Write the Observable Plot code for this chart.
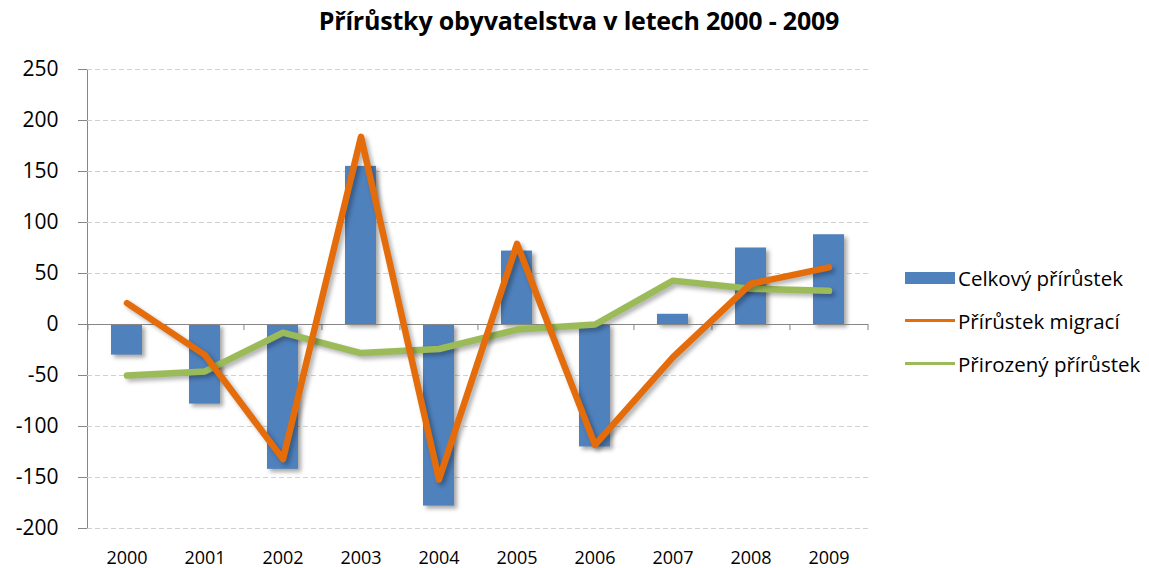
<!DOCTYPE html>
<html><head><meta charset="utf-8">
<script src="https://cdn.jsdelivr.net/npm/d3@7"></script>
<script src="https://cdn.jsdelivr.net/npm/@observablehq/plot@0.6"></script>
<style>
body{margin:0;background:#fff;font-family:"Open Sans",sans-serif;}
#wrap{position:relative;width:1149px;height:568px;overflow:hidden;}
#title{position:absolute;top:3px;left:0;width:1158px;text-align:center;font-weight:bold;font-size:25px;color:#000;letter-spacing:-0.2px;}
#chart{position:absolute;top:45px;left:0;}
#legend{position:absolute;left:905px;top:256px;font-size:20.5px;color:#000;}
.li{display:flex;align-items:center;height:43px;}
.sw{width:50px;margin-right:3px;}
svg text{fill:#000;}
svg [aria-label^="y-axis"] text{font-size:21px;}
g[aria-label="bar"]{filter:drop-shadow(3px 3px 2px rgba(0,0,0,0.35));}
g[aria-label="line"]{filter:drop-shadow(3px 3px 2px rgba(0,0,0,0.3));}
</style></head>
<body><div id="wrap"><div id="title">Přírůstky obyvatelstva v letech 2000 - 2009</div><div id="chart"></div><div id="legend"></div></div>
<script>
const years = ["2000","2001","2002","2003","2004","2005","2006","2007","2008","2009"];
const celkovy = [-30,-78,-142,155,-178,72,-120,10,75,88];
const migrace = [21,-30,-132,184,-152,79,-118,-32,40,56];
const prirozeny = [-50,-46,-8,-28,-24,-5,0,43,35,33];
const yTicks = [-200,-150,-100,-50,0,50,100,150,200,250];
const seriesNames = ["Celkový přírůstek","Přírůstek migrací","Přirozený přírůstek"];
const seriesColors = ["#4F81BD","#E46C0A","#9BBB59"];

const W = 880, H = 523, ML = 87, MR = 12, MT = 24, MB = 40;
const step = (W - ML - MR) / years.length;

const bars = years.map((y,i)=>({year:y, value:celkovy[i]}));
const mig = years.map((y,i)=>({year:y, value:migrace[i]}));
const nat = years.map((y,i)=>({year:y, value:prirozeny[i]}));

const plot = Plot.plot({
  width: W, height: H,
  marginLeft: ML, marginRight: MR, marginTop: MT, marginBottom: MB,
  style: {fontFamily: '"Open Sans", sans-serif', fontSize: "18px", color: "#868686", background: "#fff"},
  x: {type: "band", domain: years, paddingInner: 0.6, paddingOuter: 0.3, label: null, tickSize: 0, tickPadding: 23},
  y: {domain: [-200, 250], ticks: yTicks, label: null, tickSize: 9, tickPadding: 20, line: true, tickFormat: d => String(d)},
  marks: [
    Plot.ruleY(yTicks.filter(d => d !== 0), {stroke: "#d0d0d0", strokeDasharray: "5,3", strokeWidth: 1}),
    Plot.barY(bars, {x: "year", y: "value", fill: seriesColors[0]}),
    Plot.ruleY([0], {stroke: "#868686", strokeWidth: 1}),
    Plot.ruleX(years, {x: d => d, y1: 0, y2: -6, dx: -step/2, stroke: "#868686"}),
    Plot.ruleX(years.slice(-1), {x: d => d, y1: 0, y2: -6, dx: step/2, stroke: "#868686"}),
    Plot.line(nat, {x: "year", y: "value", stroke: seriesColors[2], strokeWidth: 6.5, strokeLinejoin: "round", strokeLinecap: "round"}),
    Plot.line(mig, {x: "year", y: "value", stroke: seriesColors[1], strokeWidth: 6.5, strokeLinejoin: "round", strokeLinecap: "round"})
  ]
});
document.getElementById("chart").appendChild(plot);

const lg = document.getElementById("legend");
seriesNames.forEach((n,i)=>{
  const row = document.createElement("div"); row.className = "li";
  const sw = document.createElement("div"); sw.className = "sw";
  sw.style.background = seriesColors[i];
  sw.style.height = i === 0 ? "12px" : "3px";
  const t = document.createElement("span"); t.textContent = n;
  row.appendChild(sw); row.appendChild(t); lg.appendChild(row);
});
</script></body></html>
